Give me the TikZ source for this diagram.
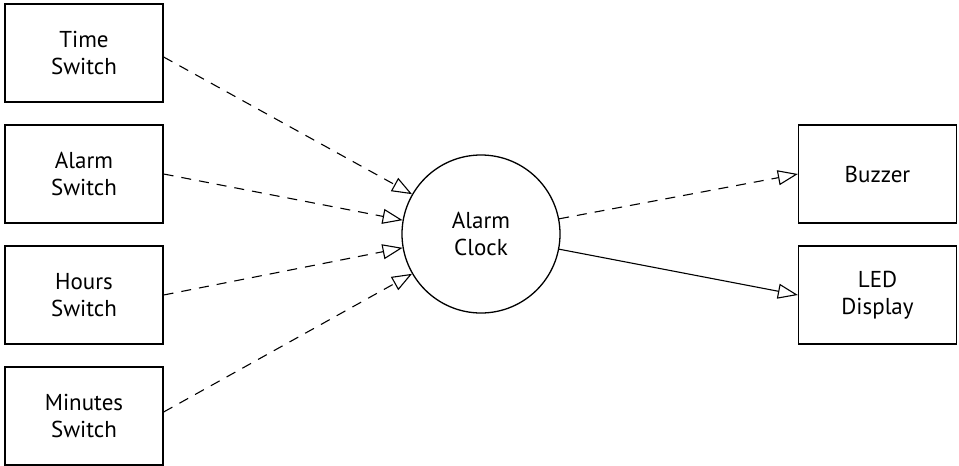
\documentclass[tikz,border=0pt]{standalone}
\usepackage{fontspec}
\setmainfont{PT Sans}
\usetikzlibrary{arrows.meta}
\begin{document}
\begin{tikzpicture}[x=1pt,y=-1pt,
  box/.style={draw, line width=1.3pt, minimum width=158pt, minimum height=98pt, inner sep=0pt, align=center, font=\fontsize{23}{27}\selectfont},
  hub/.style={draw, circle, line width=1.3pt, minimum size=158pt, inner sep=0pt, align=center, font=\fontsize{23}{27}\selectfont},
  flow/.style={line width=1.1pt, -{Triangle[open, length=20pt, width=15pt, line width=1.1pt]}},
  dsh/.style={flow, dash pattern=on 10pt off 8pt}]
\useasboundingbox (0,0) rectangle (959,466);
\node[box] (time) at (84,53) {Time\\Switch};
\node[box] (alarm) at (84,174) {Alarm\\Switch};
\node[box] (hours) at (84,295) {Hours\\Switch};
\node[box] (minutes) at (84,416) {Minutes\\Switch};
\node[hub] (clock) at (481,234) {Alarm\\Clock};
\node[box] (buzzer) at (877.5,174) {Buzzer};
\node[box] (led) at (877.5,295) {LED\\Display};
\draw[dsh] ([yshift=-4pt]time.east) -- (clock.150);
\draw[dsh] (alarm.east) -- (clock.170);
\draw[dsh] (hours.east) -- (clock.190);
\draw[dsh] ([yshift=4pt]minutes.east) -- (clock.210);
\draw[dsh] (clock.11) -- (buzzer.west);
\draw[flow] (clock.-11) -- (led.west);
\end{tikzpicture}
\end{document}
